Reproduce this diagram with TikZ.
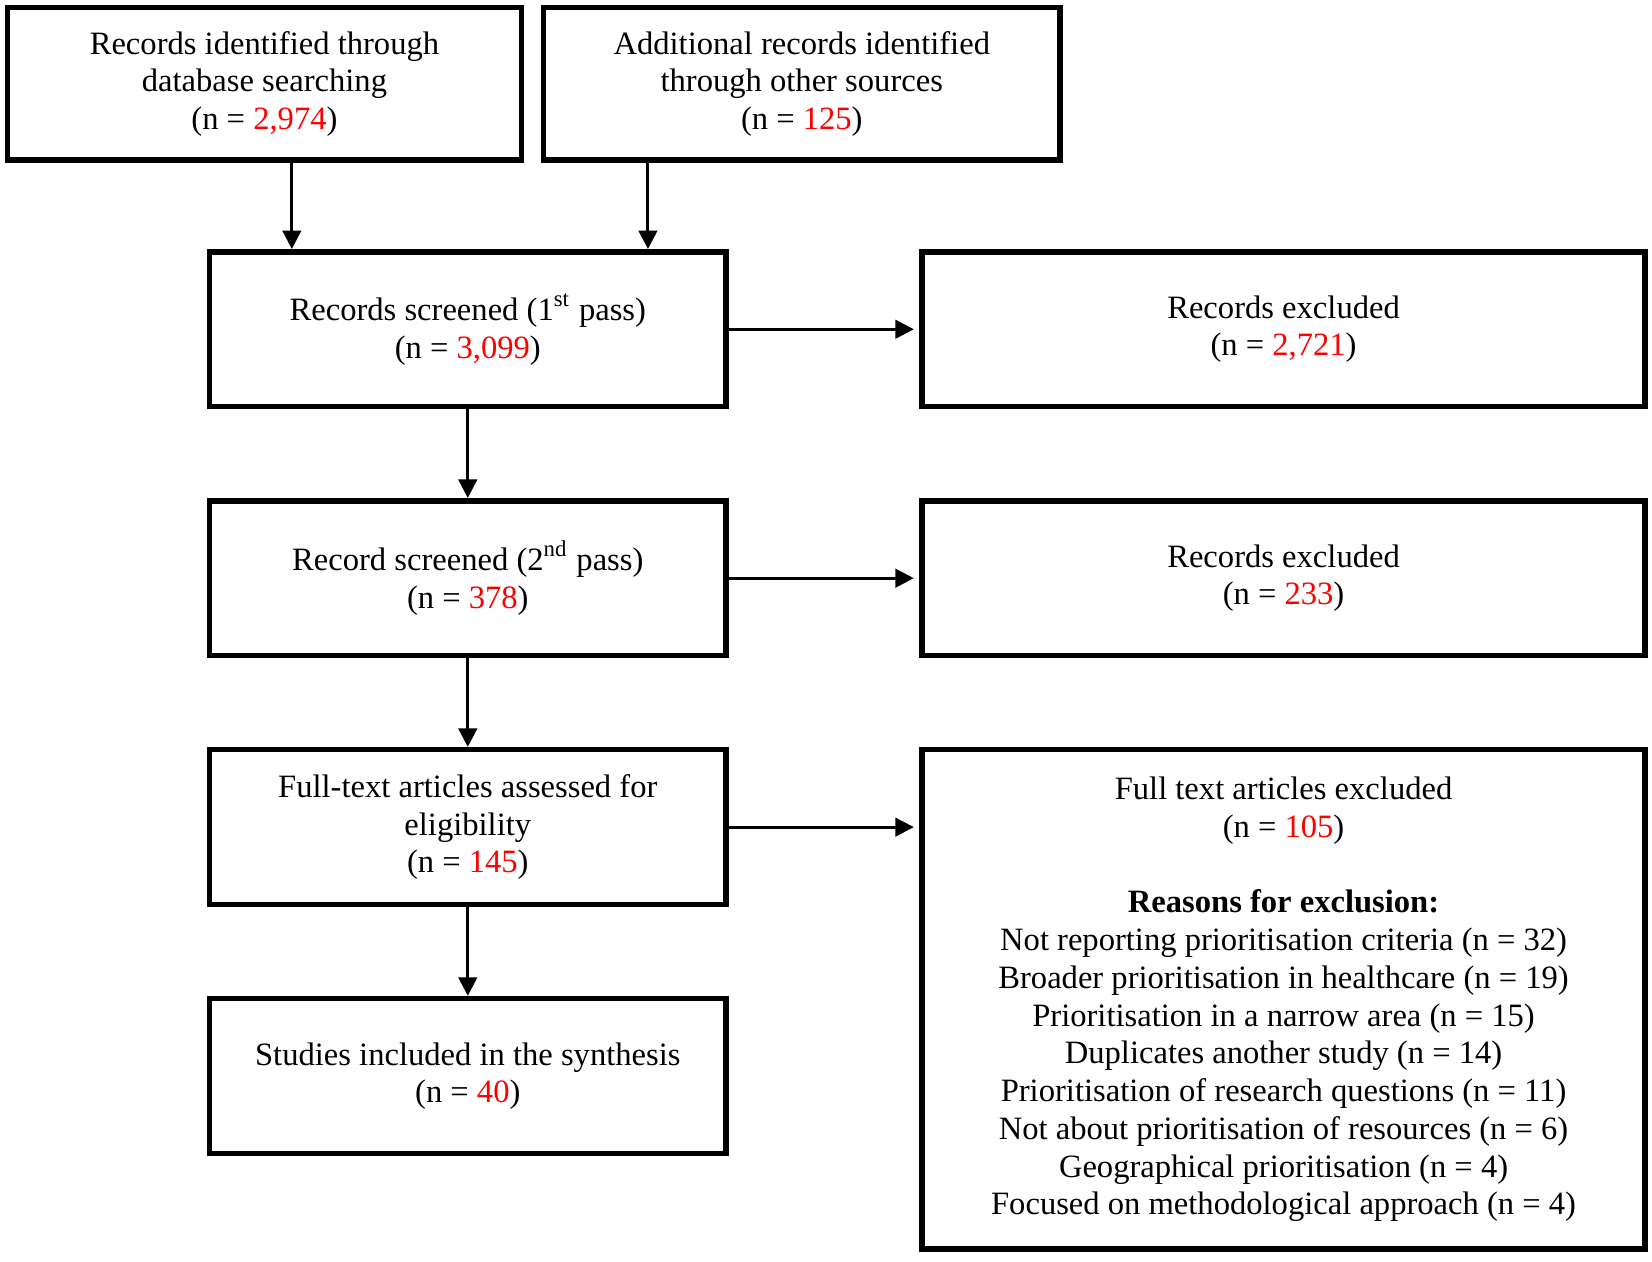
\documentclass[tikz,border=0pt]{standalone}
\usepackage{fontspec}
\setmainfont{Liberation Serif}
\usetikzlibrary{chains,positioning,arrows.meta}
\def\nred#1{(n = \textcolor{red}{#1})}

\begin{document}
\begin{tikzpicture}[
  node distance = 8.4mm,
  start chain = going below,
  font = \fontsize{8.8}{10.2}\selectfont,
  box/.style = {draw, line width=1.5pt
    , fill=white, align=center, inner sep=2pt
    , minimum width=4.9cm, minimum height=1.47cm},
  flow/.style = {box, on chain},
  side/.style = {box, minimum width=6.86cm},
  arr/.style = {line width=.8pt, -{Triangle[length=5pt,width=5pt]}}]

 \useasboundingbox (0,0) rectangle (15.68,-11.97);

 % sources
 \node[box, minimum width=4.88cm, minimum height=1.45cm] (ident) at (2.51,-.795)
   {Records identified through\\database searching\\\nred{2,974}};
 \node[box, minimum height=1.45cm] (other) at (7.61,-.795)
   {Additional records identified\\through other sources\\\nred{125}};

 % main column
 \node[flow] (scr1) at (4.44,-3.125) {Records screened (1\textsuperscript{st} pass)\\\nred{3,099}};
 \node[flow] (scr2) {Record screened (2\textsuperscript{nd} pass)\\\nred{378}};
 \node[flow] (full) {Full-text articles assessed for\\eligibility\\\nred{145}};
 \node[flow] (incl) {Studies included in the synthesis\\\nred{40}};

 % exclusions
 \node[side, right=1.81cm of scr1] (excl1) {Records excluded\\\nred{2,721}};
 \node[side, right=1.81cm of scr2] (excl2) {Records excluded\\\nred{233}};
 \node[side, minimum height=4.74cm, anchor=north west] (fexcl)
   at ([xshift=1.81cm]full.north east)
   {Full text articles excluded\\\nred{105}\\[10.2pt]
    \textbf{Reasons for exclusion:}\\
    Not reporting prioritisation criteria (n = 32)\\
    Broader prioritisation in healthcare (n = 19)\\
    Prioritisation in a narrow area (n = 15)\\
    Duplicates another study (n = 14)\\
    Prioritisation of research questions (n = 11)\\
    Not about prioritisation of resources (n = 6)\\
    Geographical prioritisation (n = 4)\\
    Focused on methodological approach (n = 4)};

 \begin{scope}[arr]
  \draw ([xshift=2.6mm]ident.south) -- ([xshift=2.6mm]ident.south |- scr1.north);
  \draw ([xshift=-14.6mm]other.south) -- ([xshift=-14.6mm]other.south |- scr1.north);
  \path (scr1) edge (scr2);
  \path (scr2) edge (full);
  \path (full) edge (incl);
  \draw[shorten >=1.5pt] (scr1.east) -- (excl1.west);
  \draw[shorten >=1.5pt] (scr2.east) -- (excl2.west);
  \draw[shorten >=1.5pt] (full.east) -- (full.east -| fexcl.west);
 \end{scope}
\end{tikzpicture}
\end{document}
